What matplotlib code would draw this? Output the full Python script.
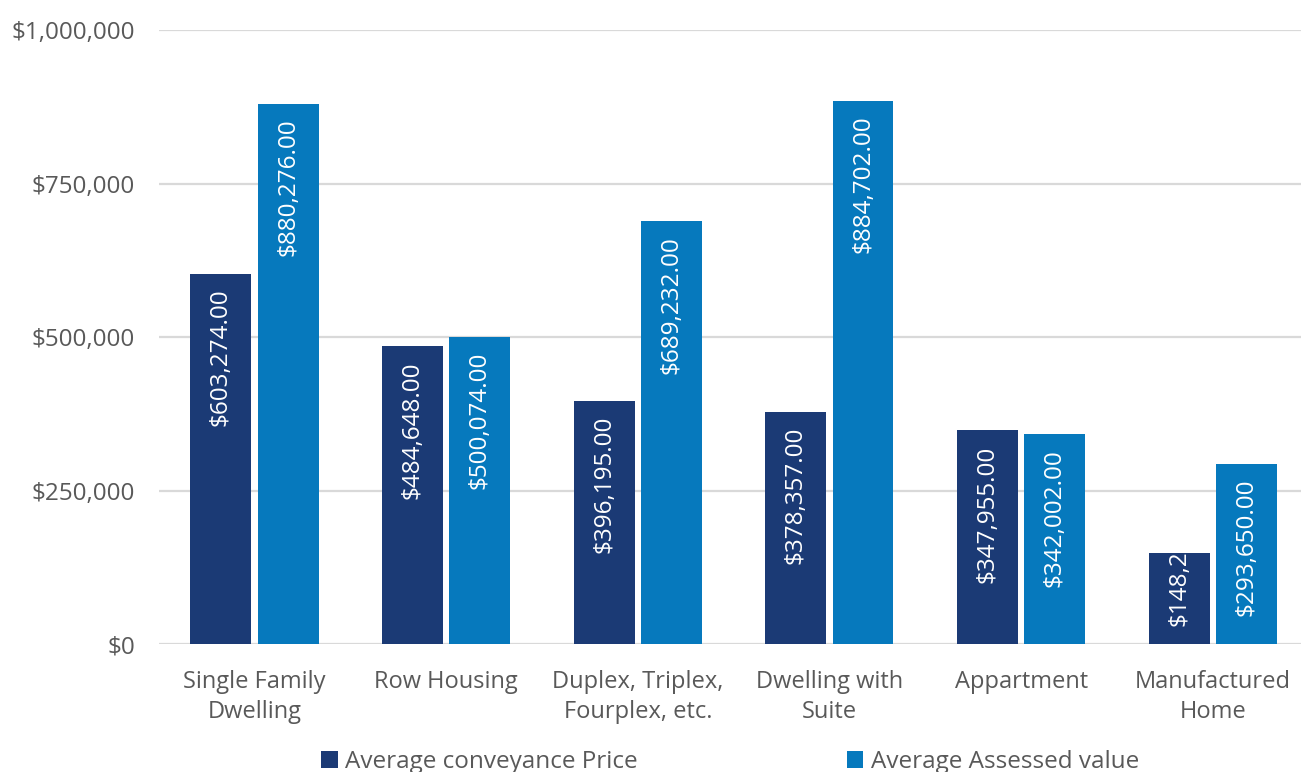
import matplotlib
matplotlib.use("Agg")
import matplotlib.pyplot as plt
import numpy as np

categories = ["Single Family\nDwelling", "Row Housing", "Duplex, Triplex,\nFourplex, etc.",
              "Dwelling with\nSuite", "Appartment", "Manufactured\nHome"]
conveyance_price = [603274.00, 484648.00, 396195.00, 378357.00, 347955.00, 148210.00]
assessed_value = [880276.00, 500074.00, 689232.00, 884702.00, 342002.00, 293650.00]
series_names = ["Average conveyance Price", "Average Assessed value"]
y_ticks = [0, 250000, 500000, 750000, 1000000]

DARK = "#1b3a75"
LIGHT = "#0679bd"
GRID = "#d9d9d9"
TEXT = "#595959"
FONT = "Open Sans"
FS = 17.5

plt.rcParams["font.family"] = [FONT, "DejaVu Sans"]

fig = plt.figure(figsize=(13.01, 7.72), dpi=100)
ax = fig.add_axes([0.12195, 0.1658, 0.8839, 0.7953])

x = np.arange(len(categories))
width = 0.318
offset = 0.175
bars1 = ax.bar(x - offset, conveyance_price, width, color=DARK, label=series_names[0], zorder=3)
bars2 = ax.bar(x + offset, assessed_value, width, color=LIGHT, label=series_names[1], zorder=3)

ax.set_xlim(-0.5, len(categories) - 0.5)
ax.set_ylim(0, 1000000)
ax.set_yticks(y_ticks)
ax.set_yticklabels([f"${v:,.0f}" for v in y_ticks])
ax.set_xticks(x)
ax.set_xticklabels(categories, linespacing=1.3)
ax.tick_params(axis="both", length=0, colors=TEXT, labelsize=FS)
ax.tick_params(axis="x", labelsize=17)
ax.tick_params(axis="y", pad=17)
ax.tick_params(axis="x", pad=19)
ax.grid(axis="y", color=GRID, linewidth=1.6, zorder=0)
ax.set_axisbelow(True)
for s in ax.spines.values():
    s.set_visible(False)

fig.canvas.draw()
renderer = fig.canvas.get_renderer()
PAD_PX = 15
PX2PT = 72 / fig.dpi


def add_label(bar, value):
    label = f"${value:,.2f}"
    x0 = bar.get_x() + bar.get_width() / 2
    top = bar.get_height()
    y_top_px = ax.transData.transform((x0, top))[1]
    y_bot_px = ax.transData.transform((x0, 0))[1]
    bar_px = y_top_px - y_bot_px
    t = ax.annotate(label, (x0, top), xytext=(0, -PAD_PX * PX2PT),
                    textcoords="offset points", rotation=90, ha="center", va="top",
                    color="white", fontsize=FS, zorder=4)
    if t.get_window_extent(renderer).height + 2 * PAD_PX > bar_px:
        # too long for the bar: drop trailing characters and centre the rest
        room = bar_px - 12
        while len(label) > 1 and t.get_window_extent(renderer).height > room:
            label = label[:-1]
            t.set_text(label)
        t.xy = (x0, top / 2)
        t.set_position((0, 10 * PX2PT))
        t.set_va("center")


for b, v in zip(bars1, conveyance_price):
    add_label(b, v)
for b, v in zip(bars2, assessed_value):
    add_label(b, v)

fig.legend(handles=[bars1, bars2], labels=series_names, loc="center",
           bbox_to_anchor=(0.5612, 1 - 762 / 772), ncol=2, frameon=False,
           fontsize=FS, labelcolor=TEXT, handlelength=0.68, handleheight=0.68,
           handletextpad=0.3, columnspacing=8.6)

fig.savefig("out.png", dpi=100)
